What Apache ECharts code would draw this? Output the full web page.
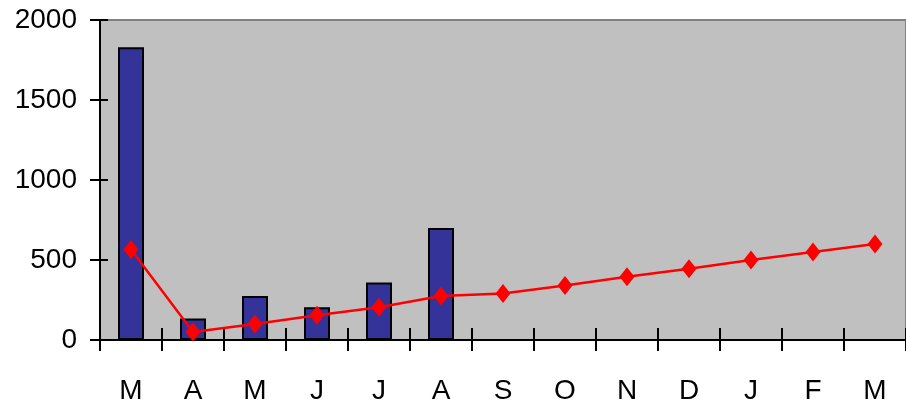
<!DOCTYPE html>
<html><head><meta charset="utf-8">
<script src="https://cdn.jsdelivr.net/npm/echarts@6/dist/echarts.min.js"></script>
<style>html,body{margin:0;padding:0;background:#fff}#c{width:906px;height:405px}</style>
</head><body><div id="c"></div>
<script>
const categories = ['M','A','M','J','J','A','S','O','N','D','J','F','M'];
const barValues = [1830, 135, 275, 205, 360, 700];
const lineValues = [565, 50, 100, 155, 205, 275, 290, 340, 395, 445, 500, 550, 600];
const yTicks = [0, 500, 1000, 1500, 2000];

const font = '"Liberation Sans", Arial, sans-serif';
const chart = echarts.init(document.getElementById('c'), null, {renderer: 'canvas'});
const hiddenLine = {show: true, lineStyle: {color: '#000', width: 0, opacity: 0}};
chart.setOption({
  animation: false,
  grid: {left: 100, top: 20, width: 809, bottom: 65, show: true,
         backgroundColor: '#C0C0C0', borderColor: '#808080', borderWidth: 2},
  xAxis: [
    {type: 'category', data: categories, boundaryGap: true,
     axisLine: {lineStyle: {color: '#000', width: 2}},
     axisTick: {show: true, length: 11, inside: false, lineStyle: {color: '#000', width: 2}},
     axisLabel: {color: '#000', fontFamily: font, fontSize: 28, margin: 37}},
    {type: 'category', data: categories, boundaryGap: true, position: 'bottom', offset: 0,
     axisLine: hiddenLine,
     axisTick: {show: true, length: 12, inside: true, lineStyle: {color: '#000', width: 2}},
     axisLabel: {show: false}}
  ],
  yAxis: [
    {type: 'value', min: 0, max: 2000, interval: 500,
     axisLine: {show: true, lineStyle: {color: '#000', width: 2}},
     axisTick: {show: true, length: 10, inside: false, lineStyle: {color: '#000', width: 2}},
     splitLine: {show: false},
     axisLabel: {color: '#000', fontFamily: font, fontSize: 28, margin: 23,
       formatter: v => yTicks.includes(v) ? String(v) : ''}},
    {type: 'value', min: 0, max: 2000, interval: 500, position: 'left', offset: 0,
     axisLine: hiddenLine,
     axisTick: {show: true, length: 8, inside: true, lineStyle: {color: '#000', width: 2}},
     splitLine: {show: false}, axisLabel: {show: false}}
  ],
  series: [
    {type: 'bar', data: barValues, barWidth: 26, xAxisIndex: 0, yAxisIndex: 0,
     itemStyle: {color: '#333399', borderColor: '#000', borderWidth: 2}},
    {type: 'line', data: lineValues, xAxisIndex: 0, yAxisIndex: 0,
     symbol: 'diamond', symbolSize: [15, 19],
     lineStyle: {color: '#FF0000', width: 2.5},
     itemStyle: {color: '#FF0000'}}
  ]
});
</script></body></html>
